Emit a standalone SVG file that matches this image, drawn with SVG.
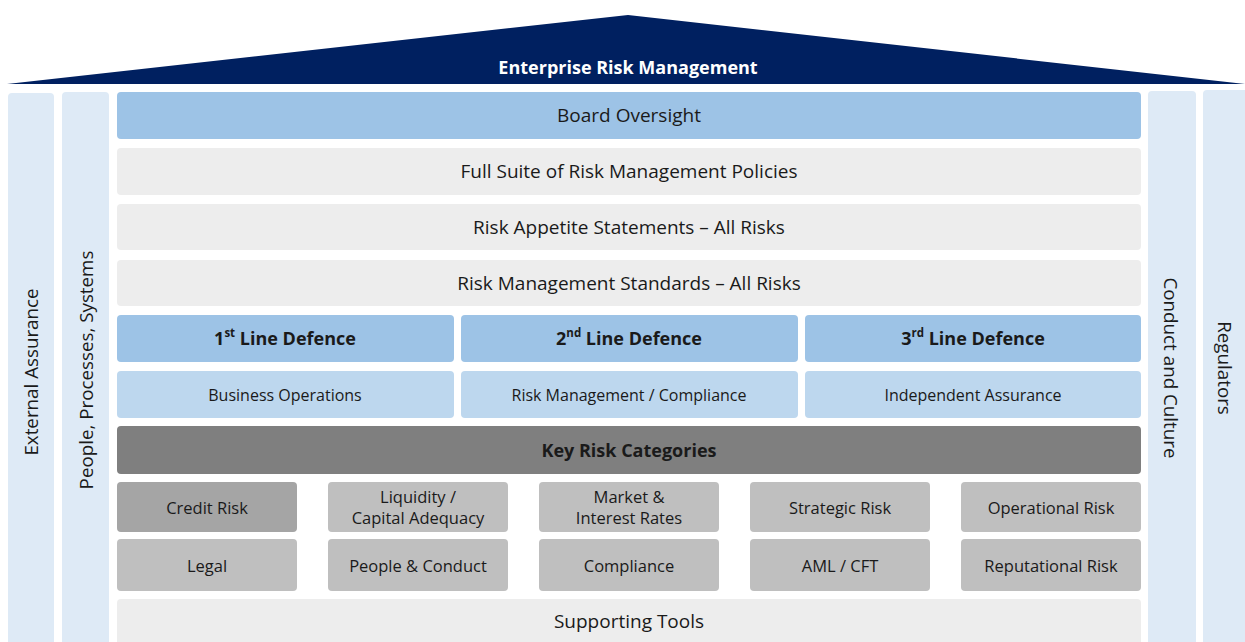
<svg xmlns="http://www.w3.org/2000/svg" width="1245" height="642" viewBox="0 0 1245 642">
  <style>
    text { font-family: "Open Sans", "Noto Sans", sans-serif; fill: #1a1a1a; text-anchor: middle; dominant-baseline: central; }
    .side { fill: #DEEAF6; }
    .blue { fill: #9DC3E6; }
    .lblue { fill: #BDD7EE; }
    .grey { fill: #EDEDED; }
    .dark { fill: #7F7F7F; }
    .mid { fill: #A5A5A5; }
    .light { fill: #BFBFBF; }
    .row { font-size: 19px; }
    .sub { font-size: 16px; }
    .bold { font-size: 18px; font-weight: bold; }
    .cat { font-size: 16.5px; }
    .vert { font-size: 18.8px; }
    .sup { font-size: 11.5px; }
  </style>

  <!-- roof -->
  <g id="roof">
    <polygon points="7,84 628,15 1245,84" fill="#002060"/>
    <text x="628" y="67" style="fill:#ffffff;font-size:18px;font-weight:bold">Enterprise Risk Management</text>
  </g>

  <!-- outer pillars -->
  <g id="external-assurance">
    <rect class="side" x="8" y="93" width="46" height="560" rx="4"/>
    <text class="vert" transform="translate(31,372) rotate(-90)">External Assurance</text>
  </g>
  <g id="people-processes-systems">
    <rect class="side" x="62" y="92" width="47" height="560" rx="4"/>
    <text class="vert" transform="translate(86,370) rotate(-90)">People, Processes, Systems</text>
  </g>
  <g id="conduct-culture">
    <rect class="side" x="1148" y="91" width="48" height="560" rx="4"/>
    <text class="vert" transform="translate(1171,368) rotate(90)">Conduct and Culture</text>
  </g>
  <g id="regulators">
    <rect class="side" x="1203" y="90" width="50" height="560" rx="4"/>
    <text class="vert" transform="translate(1225,368) rotate(90)">Regulators</text>
  </g>

  <!-- governance rows -->
  <g id="board-oversight">
    <rect class="blue" x="117" y="92" width="1024" height="47" rx="4"/>
    <text class="row" x="629" y="115">Board Oversight</text>
  </g>
  <g id="policies">
    <rect class="grey" x="117" y="148" width="1024" height="47" rx="4"/>
    <text class="row" x="629" y="171">Full Suite of Risk Management Policies</text>
  </g>
  <g id="risk-appetite">
    <rect class="grey" x="117" y="204" width="1024" height="46" rx="4"/>
    <text class="row" x="629" y="227">Risk Appetite Statements – All Risks</text>
  </g>
  <g id="standards">
    <rect class="grey" x="117" y="260" width="1024" height="46" rx="4"/>
    <text class="row" x="629" y="283">Risk Management Standards – All Risks</text>
  </g>

  <!-- lines of defence -->
  <g id="line-1">
    <rect class="blue" x="117" y="315" width="337" height="47" rx="4"/>
    <text class="bold" x="285" y="338">1<tspan class="sup" dy="-6">st</tspan><tspan dy="6"> Line Defence</tspan></text>
  </g>
  <g id="line-2">
    <rect class="blue" x="461" y="315" width="337" height="47" rx="4"/>
    <text class="bold" x="629" y="338">2<tspan class="sup" dy="-6">nd</tspan><tspan dy="6"> Line Defence</tspan></text>
  </g>
  <g id="line-3">
    <rect class="blue" x="805" y="315" width="336" height="47" rx="4"/>
    <text class="bold" x="973" y="338">3<tspan class="sup" dy="-6">rd</tspan><tspan dy="6"> Line Defence</tspan></text>
  </g>
  <g id="business-operations">
    <rect class="lblue" x="117" y="371" width="337" height="47" rx="4"/>
    <text class="sub" x="285" y="395">Business Operations</text>
  </g>
  <g id="risk-management-compliance">
    <rect class="lblue" x="461" y="371" width="337" height="47" rx="4"/>
    <text class="sub" x="629" y="395">Risk Management / Compliance</text>
  </g>
  <g id="independent-assurance">
    <rect class="lblue" x="805" y="371" width="336" height="47" rx="4"/>
    <text class="sub" x="973" y="395">Independent Assurance</text>
  </g>

  <!-- risk categories -->
  <g id="key-risk-categories">
    <rect class="dark" x="117" y="426" width="1024" height="48" rx="4"/>
    <text class="bold" x="629" y="450">Key Risk Categories</text>
  </g>
  <g id="credit-risk">
    <rect class="mid" x="117" y="482" width="180" height="50" rx="4"/>
    <text class="cat" x="207" y="507">Credit Risk</text>
  </g>
  <g id="liquidity">
    <rect class="light" x="328" y="482" width="180" height="50" rx="4"/>
    <text class="cat" x="418" y="496">Liquidity /</text>
    <text class="cat" x="418" y="517">Capital Adequacy</text>
  </g>
  <g id="market">
    <rect class="light" x="539" y="482" width="180" height="50" rx="4"/>
    <text class="cat" x="629" y="496">Market &amp;</text>
    <text class="cat" x="629" y="517">Interest Rates</text>
  </g>
  <g id="strategic">
    <rect class="light" x="750" y="482" width="180" height="50" rx="4"/>
    <text class="cat" x="840" y="507">Strategic Risk</text>
  </g>
  <g id="operational">
    <rect class="light" x="961" y="482" width="180" height="50" rx="4"/>
    <text class="cat" x="1051" y="507">Operational Risk</text>
  </g>
  <g id="legal">
    <rect class="light" x="117" y="539" width="180" height="52" rx="4"/>
    <text class="cat" x="207" y="565">Legal</text>
  </g>
  <g id="people-conduct">
    <rect class="light" x="328" y="539" width="180" height="52" rx="4"/>
    <text class="cat" x="418" y="565">People &amp; Conduct</text>
  </g>
  <g id="compliance">
    <rect class="light" x="539" y="539" width="180" height="52" rx="4"/>
    <text class="cat" x="629" y="565">Compliance</text>
  </g>
  <g id="aml-cft">
    <rect class="light" x="750" y="539" width="180" height="52" rx="4"/>
    <text class="cat" x="840" y="565">AML / CFT</text>
  </g>
  <g id="reputational">
    <rect class="light" x="961" y="539" width="180" height="52" rx="4"/>
    <text class="cat" x="1051" y="565">Reputational Risk</text>
  </g>

  <!-- foundation -->
  <g id="supporting-tools">
    <rect class="grey" x="117" y="599" width="1024" height="60" rx="4"/>
    <text class="row" x="629" y="621">Supporting Tools</text>
  </g>

  <g id="connectors"/>
</svg>
